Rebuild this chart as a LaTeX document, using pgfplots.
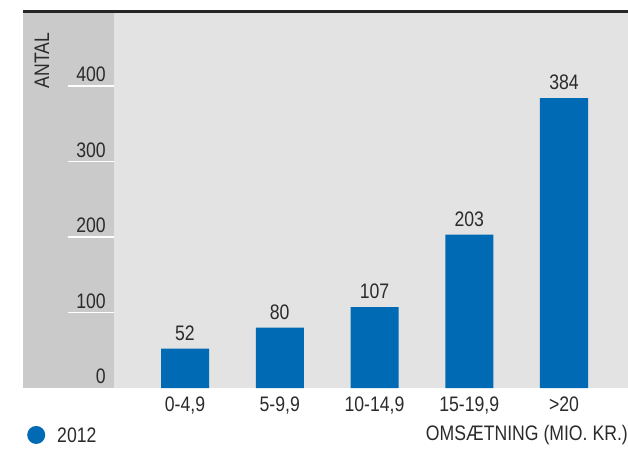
\documentclass[border=0pt]{standalone}
\usepackage{fontspec}
\setmainfont{Liberation Sans}[FakeStretch=0.84]
\usepackage{pgfplots}
\pgfplotsset{compat=1.18}
\definecolor{barblue}{HTML}{006AB4}
\definecolor{panel}{HTML}{CACACA}
\definecolor{plotbg}{HTML}{E3E3E3}
\definecolor{txt}{HTML}{2B2B2B}
\newcommand{\lbl}{\fontsize{21bp}{25bp}\selectfont}
\begin{document}
\begin{tikzpicture}
\begin{axis}[
  scale only axis, width=605bp, height=377.5bp,
  xmin=-1.7098, xmax=4.6755, ymin=0, ymax=500,
  axis line style={draw=none},
  axis background/.style={fill=plotbg},
  axis on top,
  clip=false,
  major tick length=0pt,
  ybar, bar width=48bp,
  xtick=data,
  xticklabels={{0-4,9},{5-9,9},{10-14,9},{15-19,9},{>20}},
  ytick={0,100,200,300,400},
  /pgf/number format/assume math mode=true,
  ticklabel style={font=\lbl, text=txt, inner sep=0pt},
  yticklabel style={anchor=south east, xshift=83bp, yshift=4bp},
  xticklabel style={anchor=north, yshift=-9bp},
  ylabel={ANTAL},
  ylabel style={at={(axis description cs:0.0314,0.9418)}, anchor=east, inner sep=0pt, font=\lbl, text=txt},
  xlabel={OMSÆTNING (MIO. KR.)},
  xlabel style={at={(axis description cs:1,-0.1245)}, anchor=east, inner sep=0pt, font=\lbl, text=txt},
  legend style={draw=none, fill=none, at={(axis description cs:0.0066,-0.1245)}, anchor=west,
    inner sep=0pt, nodes={inner sep=0pt}, column sep=12bp, font=\lbl, text=txt},
  legend image code/.code={\fill[barblue] (9bp,1bp) circle (9bp);},
]
\fill[panel] (axis cs:-1.7098,0) rectangle (axis cs:-0.749,500);
\pgfplotsinvokeforeach{100,200,300,400}{
  \draw[white, line width=1.2bp] (axis cs:-1.235,#1) -- (axis cs:-0.749,#1);
}
\draw[line width=2.2bp, black!85] ([yshift=-1bp]rel axis cs:0,1) -- ([yshift=-1bp]rel axis cs:1,1);
\addplot[fill=barblue, draw=none, nodes near coords,
  nodes near coords style={font=\lbl, text=txt, inner sep=0pt, anchor=south, yshift=8bp}]
  coordinates {(0,52) (1,80) (2,107) (3,203) (4,384)};
\addlegendentry{2012}
\end{axis}
\pgfresetboundingbox
\path (-23bp,-63bp) rectangle (605bp,388bp);
\end{tikzpicture}
\end{document}
